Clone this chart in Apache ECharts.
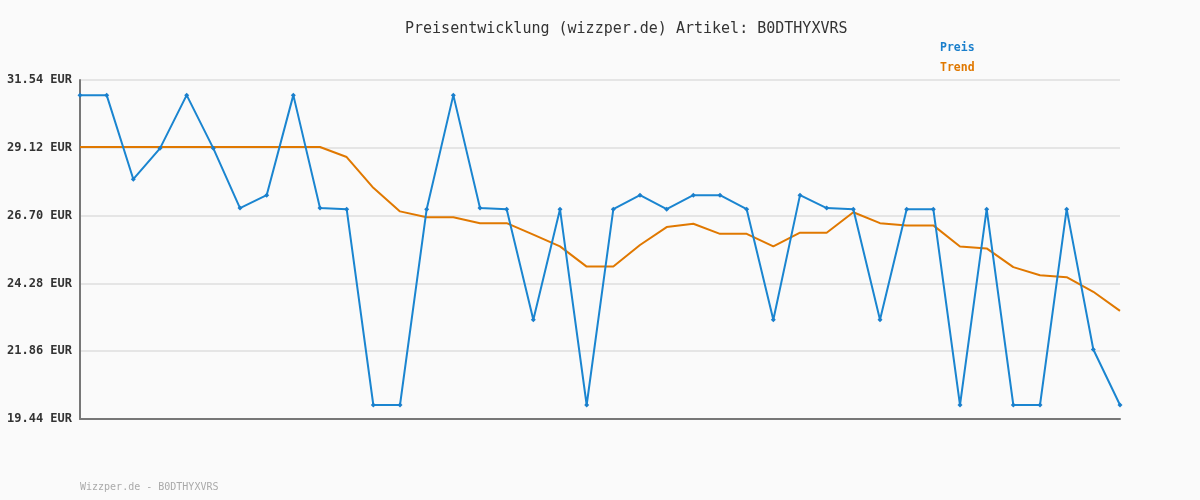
<!DOCTYPE html>
<html>
<head>
<meta charset="utf-8">
<script src="https://cdn.jsdelivr.net/npm/echarts@6/dist/echarts.min.js"></script>
<style>html,body{margin:0;padding:0;background:#fafafa;}#c{width:1200px;height:500px;}</style>
</head>
<body>
<div id="c"></div>
<script>
const categories = Array.from({length: 40}, (_, i) => String(i + 1));
const preis = [31.0, 31.0, 28.0, 29.1, 31.0, 29.1, 26.97, 27.43, 31.0, 26.97,
  26.93, 19.94, 19.94, 26.93, 31.0, 26.97, 26.93, 22.98, 26.93, 19.94,
  26.93, 27.43, 26.93, 27.43, 27.43, 26.93, 22.98, 27.43, 26.97, 26.93,
  22.98, 26.93, 26.93, 19.94, 26.93, 19.94, 19.94, 26.93, 21.92, 19.94];
const trend = [29.15, 29.15, 29.15, 29.15, 29.15, 29.15, 29.15, 29.15, 29.15, 29.15,
  28.79, 27.69, 26.85, 26.64, 26.64, 26.43, 26.43, 26.02, 25.6, 24.88,
  24.88, 25.65, 26.29, 26.41, 26.05, 26.05, 25.6, 26.09, 26.09, 26.82,
  26.43, 26.35, 26.35, 25.6, 25.53, 24.86, 24.57, 24.5, 23.98, 23.3];
const yTicks = [19.44, 21.86, 24.28, 26.70, 29.12, 31.54];

const chart = echarts.init(document.getElementById('c'));
const mono = '"DejaVu Sans Mono", monospace';
chart.setOption({
  backgroundColor: '#fafafa',
  animation: false,
  title: {
    text: 'Preisentwicklung (wizzper.de) Artikel: B0DTHYXVRS',
    left: 400, top: 17,
    textStyle: {fontFamily: mono, fontSize: 15, fontWeight: 'normal', color: '#333'}
  },
  graphic: [{
    type: 'text', left: 80, top: 482,
    style: {text: 'Wizzper.de - B0DTHYXVRS', font: '10px ' + mono, fill: '#aaa'}
  }],
  legend: {
    orient: 'vertical', left: 935, top: 37, itemGap: 8, itemWidth: 0, itemHeight: 0,
    icon: 'none',
    textStyle: {fontFamily: mono, fontSize: 11.5, fontWeight: 'bold', padding: [0,0,0,-5]},
    data: [
      {name: 'Preis', textStyle: {color: '#1a7fcc'}},
      {name: 'Trend', textStyle: {color: '#e07800'}}
    ]
  },
  grid: {left: 80, right: 80, top: 80, bottom: 81, containLabel: false},
  xAxis: {
    type: 'category', data: categories, boundaryGap: false,
    axisLine: {lineStyle: {color: '#777', width: 2}},
    axisTick: {show: false}, axisLabel: {show: false}, splitLine: {show: false}
  },
  yAxis: {
    type: 'value', min: 19.44, max: 31.54,
    axisLine: {show: true, lineStyle: {color: '#777', width: 2}},
    axisTick: {show: false, customValues: yTicks},
    axisLabel: {customValues: yTicks, formatter: v => v.toFixed(2) + ' EUR',
      fontFamily: mono, fontSize: 12, fontWeight: 'bold', color: '#333', margin: 8},
    splitLine: {show: true, lineStyle: {color: '#e5e5e5', width: 2}}
  },
  series: [
    {name: 'Trend', type: 'line', data: trend, showSymbol: false, z: 2,
      lineStyle: {color: '#e07800', width: 2}, itemStyle: {color: '#e07800'}},
    {name: 'Preis', type: 'line', data: preis, symbol: 'diamond', symbolSize: 5, z: 3,
      lineStyle: {color: '#1a85d0', width: 2}, itemStyle: {color: '#1a7fcc'}}
  ]
});
</script>
</body>
</html>
